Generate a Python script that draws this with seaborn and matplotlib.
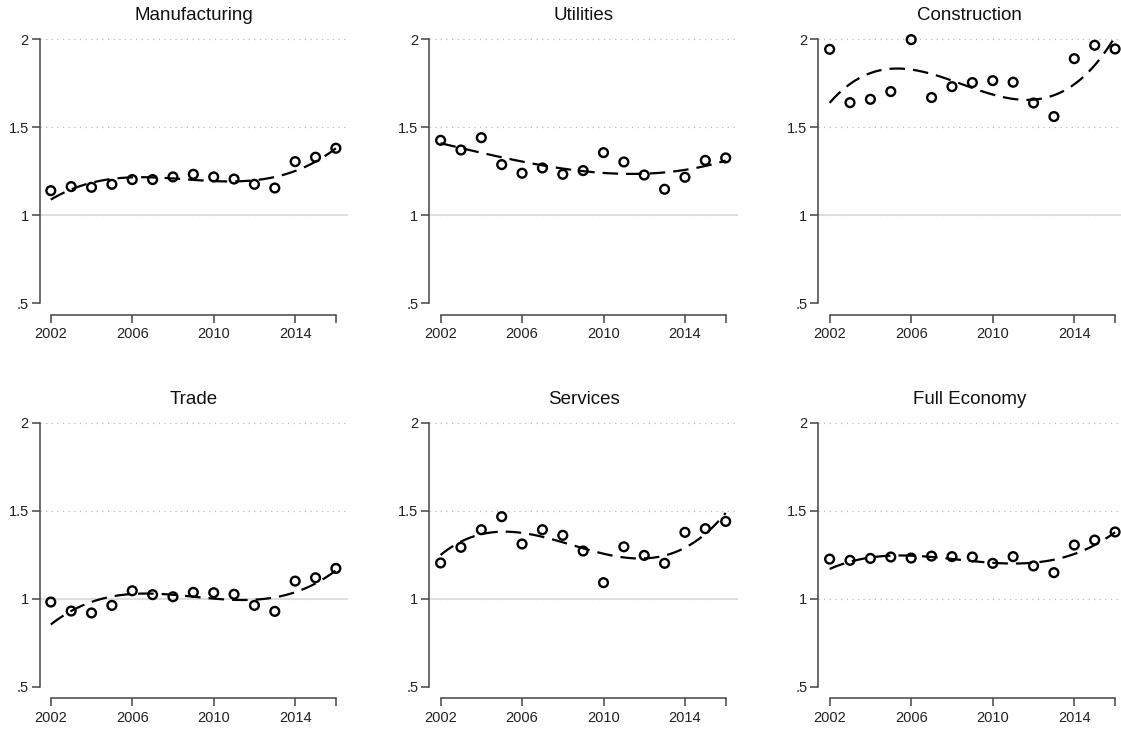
import matplotlib
matplotlib.use("Agg")
import matplotlib.pyplot as plt
import seaborn as sns

# Years covered by every panel
years = [2002, 2003, 2004, 2005, 2006, 2007, 2008, 2009,
         2010, 2011, 2012, 2013, 2014, 2015, 2016]

# Yearly ratio per sector (circles)
manufacturing = [1.140, 1.163, 1.159, 1.176, 1.203, 1.203, 1.218, 1.233,
                 1.218, 1.206, 1.176, 1.155, 1.305, 1.330, 1.381]
utilities = [1.426, 1.371, 1.441, 1.288, 1.239, 1.269, 1.233, 1.254,
             1.356, 1.303, 1.229, 1.148, 1.216, 1.312, 1.326]
construction = [1.943, 1.640, 1.659, 1.703, 1.998, 1.669, 1.731, 1.754,
                1.765, 1.756, 1.638, 1.561, 1.890, 1.966, 1.945]
trade = [0.981, 0.930, 0.919, 0.962, 1.045, 1.023, 1.011, 1.036,
         1.034, 1.025, 0.962, 0.928, 1.100, 1.119, 1.172]
services = [1.203, 1.292, 1.392, 1.466, 1.311, 1.392, 1.360, 1.271,
            1.091, 1.295, 1.246, 1.201, 1.377, 1.398, 1.439]
full_economy = [1.225, 1.218, 1.229, 1.237, 1.231, 1.242, 1.239, 1.237,
                1.201, 1.239, 1.186, 1.148, 1.305, 1.333, 1.379]

# Fitted cubic trend per sector (dashed curves), one value per year
manufacturing_trend = [1.087, 1.153, 1.182, 1.204, 1.216, 1.216, 1.210, 1.204,
                       1.195, 1.191, 1.195, 1.218, 1.253, 1.309, 1.378]
utilities_trend = [1.412, 1.377, 1.358, 1.330, 1.305, 1.282, 1.267, 1.253,
                   1.240, 1.236, 1.235, 1.242, 1.259, 1.282, 1.310]
construction_trend = [1.649, 1.731, 1.807, 1.831, 1.829, 1.810, 1.769, 1.727,
                      1.684, 1.659, 1.651, 1.674, 1.750, 1.864, 2.008]
trade_trend = [0.860, 0.926, 0.974, 1.008, 1.031, 1.034, 1.025, 1.011,
               1.002, 0.993, 0.993, 1.006, 1.034, 1.087, 1.163]
services_trend = [1.254, 1.311, 1.372, 1.381, 1.372, 1.356, 1.330, 1.286,
                  1.248, 1.226, 1.226, 1.243, 1.299, 1.381, 1.476]
full_economy_trend = [1.173, 1.210, 1.229, 1.239, 1.243, 1.239, 1.229, 1.220,
                      1.207, 1.201, 1.201, 1.216, 1.252, 1.305, 1.381]

titles = ["Manufacturing", "Utilities", "Construction",
          "Trade", "Services", "Full Economy"]
series = [manufacturing, utilities, construction, trade, services, full_economy]
trends = [manufacturing_trend, utilities_trend, construction_trend,
          trade_trend, services_trend, full_economy_trend]

y_ticks = [0.5, 1, 1.5, 2]
y_tick_labels = [".5", "1", "1.5", "2"]
x_ticks = [2002, 2006, 2010, 2014, 2016]
x_tick_labels = ["2002", "2006", "2010", "2014", ""]

sns.set_theme(style="white")
plt.rcParams["font.family"] = ["Liberation Sans", "DejaVu Sans"]

W, H = 1121, 731
fig = plt.figure(figsize=(W / 100, H / 100), dpi=100)
fig.patch.set_facecolor("white")


def box(left, top, width, height):
    return [left / W, 1 - (top + height) / H, width / W, height / H]


col_left = [39.5, 429.3, 818.3]
col_width = [308.6, 308.6, 302.7]
col_xmax = [2016.6, 2016.6, 2016.29]
row_top = [34.0, 417.4]
row_height = 274.6

spine_col = "#454545"
for i, (title, vals, trend) in enumerate(zip(titles, series, trends)):
    r, c = divmod(i, 3)
    ax = fig.add_axes(box(col_left[c], row_top[r], col_width[c], row_height))
    ax.set_facecolor("white")

    # reference lines
    for yv in [1, 1.5, 2]:
        ax.axhline(yv, color="#b8b8b8", lw=0.9, ls=(0, (1, 3.5)), zorder=0)
    if title != "Full Economy":
        ax.axhline(1, color="#dedede", lw=1.4, zorder=0.5)

    # yearly observations
    sns.regplot(
        x=years, y=vals, fit_reg=False, ax=ax, marker="o",
        scatter_kws=dict(s=40, facecolors="none", edgecolors="black",
                         linewidths=1.7, alpha=1, clip_on=False, zorder=3),
    )
    # cubic trend
    sns.regplot(
        x=years, y=trend, order=3, ci=None, scatter=False, truncate=True,
        ax=ax,
        line_kws=dict(color="black", lw=1.6, dashes=(7, 3.6), zorder=4,
                      clip_on=False),
    )

    ax.set_xlim(2001.445, col_xmax[c])
    ax.set_ylim(0.47, 2.03)
    ax.set_xticks(x_ticks)
    ax.set_xticklabels(x_tick_labels)
    ax.set_yticks(y_ticks)
    ax.set_yticklabels(y_tick_labels)
    ax.set_xlabel("")
    ax.set_ylabel("")

    for side in ["top", "right"]:
        ax.spines[side].set_visible(False)
    ax.spines["left"].set_bounds(0.5, 2)
    ax.spines["bottom"].set_bounds(2002, 2016)
    ax.spines["bottom"].set_position(("outward", 4.6))
    for side in ["left", "bottom"]:
        ax.spines[side].set_color(spine_col)
        ax.spines[side].set_linewidth(1.1)

    ax.tick_params(axis="both", which="major", direction="out", length=5.8,
                   width=1.1, color=spine_col, labelsize=10.5,
                   labelcolor="#222222", left=True, bottom=True)
    ax.tick_params(axis="y", pad=2)
    ax.tick_params(axis="x", pad=3)
    ax.grid(False)
    ax.set_title(title, fontsize=13.5, color="#111111", pad=10)

fig.savefig("out.png", dpi=100, facecolor="white")
